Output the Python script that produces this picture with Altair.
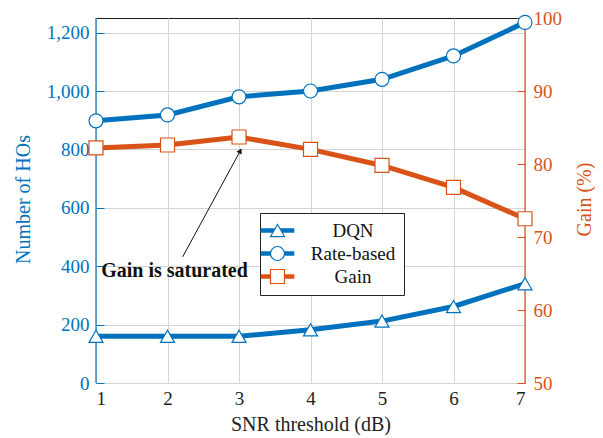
import altair as alt
import pandas as pd

# ---- data ----
snr = [1, 2, 3, 4, 5, 6, 7]
dqn = [160, 160, 160, 182, 212, 262, 340]
rate_based = [898, 918, 980, 1000, 1040, 1120, 1235]
gain = [82.2, 82.6, 83.7, 82.0, 79.8, 76.8, 72.5]
series_names = ["DQN", "Rate-based", "Gain"]
left_ticks = [0, 200, 400, 600, 800, 1000, 1200]
right_ticks = [50, 60, 70, 80, 90, 100]
left_domain = [0, 1250]
right_domain = [50, 100]

# annotation (data coordinates of the left axis)
note_text = ["Gain is saturated"]
note_x = [2.098]
note_y = [382]
arrow_x = [2.212]
arrow_y = [432]
arrow_x2 = [3.018]
arrow_y2 = [795]

BLUE = "#0072BD"
ORANGE = "#D95319"
GRID = "#d4d4d4"
FONT = "Liberation Serif"

# marker keys differ from line keys (trailing space) so the two legends stay separate
marker_names = [s + " " for s in series_names]

left_df = pd.DataFrame({
    "snr": snr * 2,
    "value": dqn + rate_based,
    "series": ["DQN"] * 7 + ["Rate-based"] * 7,
})
left_df["series_m"] = left_df["series"] + " "
gain_df = pd.DataFrame({"snr": snr, "value": gain, "series": "Gain", "series_m": "Gain "})

note_df = pd.DataFrame({"t": note_text, "x": note_x, "y": note_y})
arrow_df = pd.DataFrame({"x": arrow_x, "y": arrow_y, "x2": arrow_x2, "y2": arrow_y2})
frame_left_df = pd.DataFrame({"x": [snr[0]], "y": [left_domain[0]], "y2": [left_domain[1]]})
frame_right_df = pd.DataFrame({"x": [snr[-1]], "y": [left_domain[0]], "y2": [left_domain[1]]})

x_scale = alt.Scale(domain=[snr[0], snr[-1]], nice=False, zero=False)
x_enc = alt.X(
    "snr:Q",
    scale=x_scale,
    axis=alt.Axis(values=snr, format="d", title="SNR threshold (dB)", grid=True,
                  gridColor=GRID, domain=False, ticks=False, labelPadding=6,
                  labelFont=FONT, labelFontSize=19, labelColor="#222", titleFont=FONT,
                  titleFontSize=20, titleColor="#222", titleFontWeight="normal",
                  titleY=41, titleBaseline="middle"),
)

left_scale = alt.Scale(domain=left_domain, nice=False, zero=False)
right_scale = alt.Scale(domain=right_domain, nice=False, zero=False)

left_axis = alt.Axis(values=left_ticks, format=",d", title="Number of HOs", offset=-8,
                     domain=False, tickSize=8, tickColor=BLUE, tickWidth=1, labelPadding=7,
                     labelColor=BLUE, labelFont=FONT, labelFontSize=19, titleColor=BLUE,
                     titleFont=FONT, titleFontSize=20, titleFontWeight="normal",
                     titleX=-81, titleY=181, titleAngle=270, titleBaseline="middle",
                     titleAlign="center", grid=True, gridColor=GRID)
right_axis = alt.Axis(values=right_ticks, title="Gain (%)", orient="right", offset=-8,
                      domain=False, tickSize=8, tickColor=ORANGE, tickWidth=1,
                      labelPadding=8, labelColor=ORANGE, labelFont=FONT, labelFontSize=19,
                      titleColor=ORANGE, titleFont=FONT, titleFontSize=20,
                      titleFontWeight="normal", titleX=67, titleY=181, titleAngle=270,
                      titleBaseline="middle", titleAlign="center", grid=False)

color_scale = alt.Scale(domain=series_names, range=[BLUE, BLUE, ORANGE])
mstroke_scale = alt.Scale(domain=marker_names, range=[BLUE, BLUE, ORANGE])
shape_scale = alt.Scale(domain=marker_names, range=["triangle-up", "circle", "square"])

LX, LY = 164, 195
line_legend = alt.Legend(title=None, orient="none", legendX=LX, legendY=LY,
                         symbolType="M-2.4,0H2.4", symbolSize=196, symbolStrokeWidth=4.5,
                         labelFont=FONT, labelFontSize=19, labelAlign="center",
                         labelOffset=66, rowPadding=3, padding=8, fillColor="white",
                         strokeColor="#222", labelColor="#111", cornerRadius=0)
marker_legend = alt.Legend(title=None, orient="none", legendX=LX, legendY=LY,
                           symbolSize=196, symbolStrokeWidth=1.2, symbolFillColor="white",
                           labelFont=FONT, labelFontSize=19, labelAlign="center",
                           labelOffset=66, rowPadding=3, padding=8, labelOpacity=0)

y_left = alt.Y("value:Q", scale=left_scale, axis=left_axis)

frame_left = alt.Chart(frame_left_df).mark_rule(strokeWidth=1.2, color=BLUE).encode(
    x=alt.X("x:Q", scale=x_scale), y=alt.Y("y:Q", scale=left_scale), y2="y2:Q")
frame_right = alt.Chart(frame_right_df).mark_rule(strokeWidth=1.2, color=ORANGE).encode(
    x=alt.X("x:Q", scale=x_scale), y=alt.Y("y:Q", scale=left_scale), y2="y2:Q")

lines_left = alt.Chart(left_df).mark_line(strokeWidth=5, clip=False).encode(
    x=x_enc, y=y_left,
    color=alt.Color("series:N", scale=color_scale, legend=line_legend),
)
points_left = alt.Chart(left_df).mark_point(size=196, fill="white", strokeWidth=1.2,
                                            opacity=1, clip=False).encode(
    x=x_enc, y=alt.Y("value:Q", scale=left_scale),
    shape=alt.Shape("series_m:N", scale=shape_scale, legend=marker_legend),
    stroke=alt.Stroke("series_m:N", scale=mstroke_scale, legend=marker_legend),
)

arrow = alt.Chart(arrow_df).mark_rule(color="#111", strokeWidth=1).encode(
    x="x:Q", y=alt.Y("y:Q", scale=left_scale), x2="x2:Q", y2="y2:Q")
arrow_head = alt.Chart(arrow_df).mark_point(shape="triangle-up", filled=True, color="#111",
                                            size=35, angle=28, opacity=1).encode(
    x="x2:Q", y=alt.Y("y2:Q", scale=left_scale))
note = alt.Chart(note_df).mark_text(font=FONT, fontSize=20, fontWeight="bold",
                                    color="#111", align="center", baseline="middle").encode(
    x="x:Q", y=alt.Y("y:Q", scale=left_scale), text="t:N")

left_layer = alt.layer(frame_left, frame_right, arrow, arrow_head, note, lines_left,
                       points_left)

gain_line = alt.Chart(gain_df).mark_line(strokeWidth=5, clip=False).encode(
    x=x_enc, y=alt.Y("value:Q", scale=right_scale, axis=right_axis),
    color=alt.Color("series:N", scale=color_scale, legend=line_legend),
)
gain_points = alt.Chart(gain_df).mark_point(size=196, fill="white", strokeWidth=1.2,
                                            opacity=1, clip=False).encode(
    x=x_enc, y=alt.Y("value:Q", scale=right_scale),
    shape=alt.Shape("series_m:N", scale=shape_scale, legend=marker_legend),
    stroke=alt.Stroke("series_m:N", scale=mstroke_scale, legend=marker_legend),
)
right_layer = alt.layer(gain_line, gain_points)

chart = alt.layer(left_layer, right_layer).resolve_scale(y="independent").properties(
    width=429, height=365, autosize="none",
    padding={"left": 88, "top": 10, "right": 70, "bottom": 52},
).configure_view(stroke="#1a1a1a", strokeWidth=1)

chart.save("out.html", embed_options={"renderer": "svg", "actions": False})
